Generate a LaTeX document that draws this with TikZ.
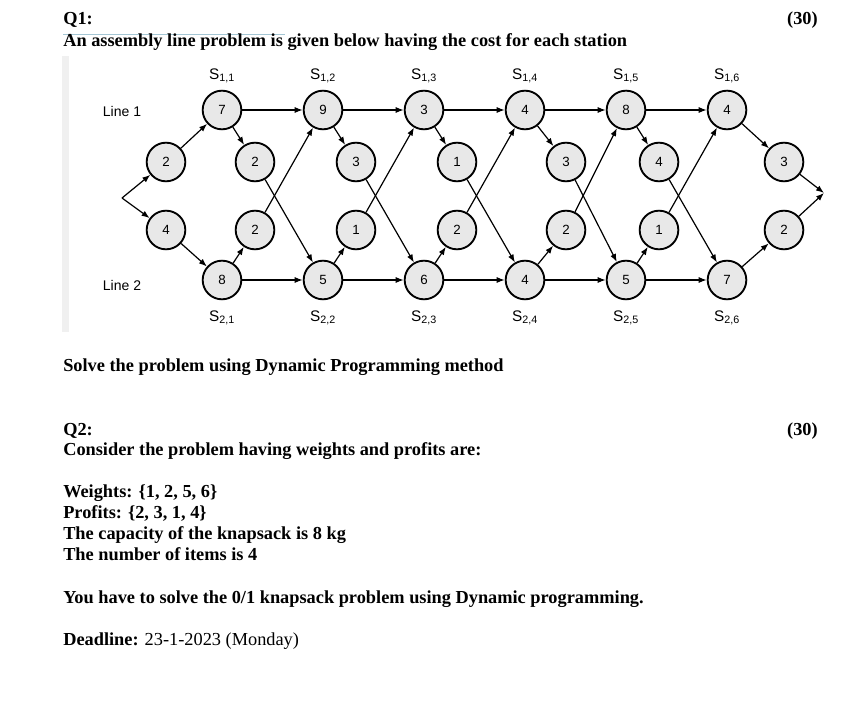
\documentclass[tikz,border=0pt]{standalone}
\usepackage{fontspec}
\setmainfont{Liberation Serif}
\newfontfamily\diag{Liberation Sans}
\usetikzlibrary{arrows.meta}
\begin{document}
\begin{tikzpicture}[x=0.75pt,y=-0.75pt,
  st/.style={circle,draw,line width=1.4pt,fill=gray!18,minimum size=29pt,inner sep=0pt,font=\diag\fontsize{10}{10}\selectfont},
  ar/.style={-{Latex[length=6pt,width=4.5pt]},line width=0.9pt},
  txt/.style={anchor=base west,inner sep=0pt,font=\fontsize{13.75}{15}\selectfont\bfseries},
  lab/.style={font=\diag\fontsize{11.5}{11.5}\selectfont,inner sep=0pt},
  lbl/.style={font=\diag\fontsize{10.5}{10.5}\selectfont,inner sep=0pt}]
\useasboundingbox (0,0) rectangle (858,727);
\fill[white] (0,0) rectangle (858,727);
\fill[gray!12] (62,56) rectangle (69,332);
\draw[cyan!40!gray!60,line width=0.6pt] (63,34) -- (285,34);
\node[txt] (q1) at (63,25) {Q1:};
\node[txt,anchor=base east] (p1) at (818,25) {(30)};
\node[txt] (t1) at (63,47) {An assembly line problem is given below having the cost for each station};
\node[txt] (t2) at (63,372) {Solve the problem using Dynamic Programming method};
\node[txt] (q2) at (63,436) {Q2:};
\node[txt,anchor=base east] (p2) at (818,436) {(30)};
\node[txt] (t3) at (63,456) {Consider the problem having weights and profits are:};
\node[txt] (t4) at (63,498) {Weights: \{1, 2, 5, 6\}};
\node[txt] (t5) at (63,519) {Profits: \{2, 3, 1, 4\}};
\node[txt] (t6) at (63,540) {The capacity of the knapsack is 8 kg};
\node[txt] (t7) at (63,561) {The number of items is 4};
\node[txt] (t8) at (63,604) {You have to solve the 0/1 knapsack problem using Dynamic programming.};
\node[txt] (t9) at (63,645) {Deadline: \mdseries 23-1-2023 (Monday)};
% diagram
\node[lbl] (l1) at (122,111) {Line 1};
\node[lbl] (l2) at (122,285) {Line 2};
\coordinate (in) at (122,198);
\coordinate (out) at (824,193);
\node[st] (e1) at (166,162) {2};
\node[st] (e2) at (166,230) {4};
\foreach \j/\a/\b [count=\k] in {1/7/8,2/9/5,3/3/6,4/4/4,5/8/5,6/4/7}{
  \pgfmathsetmacro\xx{222+101*(\j-1)}
  \node[st] (a\j) at (\xx,110) {\a};
  \node[st] (b\j) at (\xx,280) {\b};
  \node[lab] (sa\j) at (\xx,76) {S\textsubscript{1,\j}};
  \node[lab] (sb\j) at (\xx,318) {S\textsubscript{2,\j}};
}
\foreach \j/\u/\d in {1/2/2,2/3/1,3/1/2,4/3/2,5/4/1}{
  \pgfmathsetmacro\xx{255+101*(\j-1)+(\j==4?8:0)}
  \node[st] (u\j) at (\xx,162) {\u};
  \node[st] (d\j) at (\xx,230) {\d};
}
\node[st] (x1) at (784,162) {3};
\node[st] (x2) at (784,230) {2};
\draw[ar] (in) -- (e1);
\draw[ar] (in) -- (e2);
\draw[ar] (e1) -- (a1);
\draw[ar] (e2) -- (b1);
\foreach \j [evaluate=\j as \n using int(\j+1)] in {1,...,5}{
  \draw[ar] (a\j) -- (a\n);
  \draw[ar] (b\j) -- (b\n);
  \draw[ar] (a\j) -- (u\j);
  \draw[ar] (b\j) -- (d\j);
  \draw[ar] (u\j) -- (b\n);
  \draw[ar] (d\j) -- (a\n);
}
\draw[ar] (a6) -- (x1);
\draw[ar] (b6) -- (x2);
\draw[ar] (x1) -- (out);
\draw[ar] (x2) -- (out);
\end{tikzpicture}
\end{document}
